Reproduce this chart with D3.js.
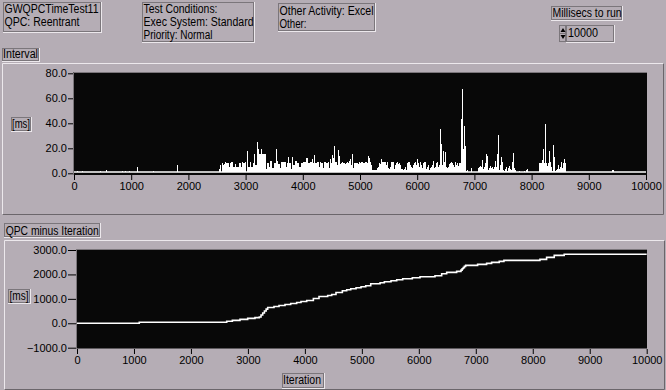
<!DOCTYPE html>
<html>
<head>
<meta charset="utf-8">
<script src="https://cdn.jsdelivr.net/npm/d3@7.9.0/dist/d3.min.js"></script>
<style>
  body { margin: 0; background: #b5adb5; }
  svg { display: block; font-family: "Liberation Sans", Arial, sans-serif; font-size: 12px; }
  .tick text { font-family: "Liberation Sans", Arial, sans-serif; font-size: 11px; fill: #000; }
  .tick line { stroke: #000; }
</style>
</head>
<body>
<div id="chart"></div>
<script>
// header texts
const titleLines = ['GWQPCTimeTest11', 'QPC: Reentrant'];
const conditionLines = ['Test Conditions:', 'Exec System: Standard', 'Priority: Normal'];
const activityLines = ['Other Activity: Excel', 'Other:'];
const millisecsToRun = 10000;

// axes
const iterTicks = [0, 1000, 2000, 3000, 4000, 5000, 6000, 7000, 8000, 9000, 10000];
const intervalTicks = [0, 20, 40, 60, 80];
const qpcTicks = [-1000, 0, 1000, 2000, 3000];

// Interval (ms): nearly every iteration sits at ~1 ms
const intervalBaseline = 1;
// isolated spikes [iteration, ms]
const intervalIsolated = [
  [60, 2], [135, 2.2], [455, 2], [560, 2.7], [835, 2], [890, 2], [960, 2],
  [1095, 4.8], [1375, 2], [1795, 6.6], [9410, 2.6], [9428, 2.6]
];
// busy stretch: peak ms per bin of 17.48 iterations, starting at iteration 2465
const busyStart = 2465;
const busyBin = 17.48;
const busyPeaks = [
  1,1,1,1,3.2,6.6,1,8,6.6,7.4, 8.8,8.5,8,8.5,5,8.5,8.8,8.8,5.3,5.3,
  7.4,5.3,5.3,5.3,8,8,5.3,8.8,8,8, 8.8,1,17.8,5.3,5.3,9.3,4.8,4.8,8,15.2,
  6.6,6.6,25,19.2,15.2,15.2,19.2,15.2,15.2,15.2, 15.2,3.2,8,8,4.8,9.8,9.8,4,4,8,
  8,19.7,9.8,7.4,7.4,4,8.8,8.8,8.8,8.8, 8.8,5.3,8,12.8,8,8,3.2,12.8,6.6,6.6,
  9.8,9.8,8,8,5.3,5.3,8,8,8.8,8.8, 9.3,12.5,12.5,8,8,8.8,8.8,11.2,8,14.6,
  8,8,8.8,8.8,4.8,8.8,8,8,4,8.8, 8.8,8,8,9.3,4,11.2,8,14.6,11.9,22,
  9.3,9.3,6.6,18.6,13.9,7.2,8,8.8,8,8, 7.2,8,8.8,8,10.1,11.4,6.6,15.4,4,8.5,
  8.5,8.5,8.5,7.4,8.8,8,8.8,8.8,8,8, 8.8,8.8,8,13.9,12.5,9.3,6.6,2.6,2.6,2.6,
  2.6,2.6,4,5.3,8,7.2,11.4,8.8,9.3,8.8, 9.3,6.6,8.8,4,3.2,5.3,8.8,9.3,9.3,3.2,
  6.6,8,8.8,7.4,8,6.6,3.2,3.2,2.6,3.2, 4.8,2.6,8,9.3,9.3,6.6,5.3,4,6.6,8,
  8.8,6.6,11.4,8,5.3,8.8,6.6,4,8,8.8, 9.3,3.2,5.3,6.6,2.6,4,5.3,6.6,9.8,4,
  5.3,8,9.3,5.3,6.6,35.4,23.4,6.6,17.8,9.3, 16.8,5.3,4,5.3,7.4,8,8.8,8,6.6,5.3,
  9.3,6.6,8,5.8,8.5,8.5,43.4,67.4,19.4,37.8, 21.8,2.1,2.6,1,1,1,4,1,1,1,
  1,1,1,4,4.8,6.1,4.8,10.6,3.2,4.8, 8,15.4,13.8,2.6,4,5.8,4,4.8,3.2,4.8,
  9.8,4.8,15.4,30.6,2.6,6.6,12.8,9.3,2.6,2.1, 3.2,4.8,2.1,4,5.8,3.2,2.6,8.7,16,4,
  2.6,1,1,1,2.1,1,1,1,1,2.1, 1,2.6,3.2,1,1,1,1,1,1,1,
  1,1,1,1,8.5,8.5,8,10.6,19.4,8, 39.4,8.5,5.8,8.5,17.8,9.3,4.8,2.1,22.6,12.8,
  2.1,2.6,3.2,6.6,3.2,5.3,9,4,8,11.4, 8.5
];

// QPC minus Iteration (ms), step values [iteration, ms]
const qpcSteps = [
  [0,0],[1093,40],[2628,80],[2727,120],[2861,160],[2996,200],[3124,230],[3200,260],
  [3230,340],[3260,420],[3290,500],[3320,580],[3347,645],[3458,685],[3546,727],
  [3651,768],[3751,809],[3856,850],[3932,891],[4032,932],[4149,1014],[4248,1096],
  [4400,1137],[4471,1178],[4546,1260],[4658,1329],[4734,1370],[4805,1411],[4898,1452],
  [4986,1493],[5068,1534],[5156,1616],[5320,1657],[5395,1698],[5512,1740],[5612,1781],
  [5717,1822],[5886,1863],[6021,1904],[6284,1945],[6401,2027],[6489,2082],[6664,2123],
  [6740,2178],[6760,2230],[6780,2280],[6800,2330],[6822,2370],[7032,2411],[7190,2452],
  [7278,2493],[7412,2534],[7494,2575],[8126,2616],[8243,2700],[8377,2782],[8552,2823],
  [10000,2823]
];

const W = 666, H = 390;
const BG = '#b5adb5', LIGHT = '#ece8ec', DARK = '#6b666b', PLOT = '#080808';

const svg = d3.select('#chart').append('svg')
  .attr('width', W).attr('height', H);

svg.append('rect').attr('width', W).attr('height', H).attr('fill', BG);

// raised panel: light top/left, dark bottom/right
function panel(x, y, w, h) {
  const g = svg.append('g');
  g.append('path').attr('d', `M${x+.5},${y+h}V${y+.5}H${x+w}`)
    .attr('fill', 'none').attr('stroke', LIGHT);
  g.append('path').attr('d', `M${x+.5},${y+h-.5}H${x+w-.5}V${y+.5}`)
    .attr('fill', 'none').attr('stroke', DARK);
}

// label box; widths squeeze the text to the narrow look of the original UI font
function labelBox(x, y, w, h, lines, widths, base = 11, lineH = 13, pad = 1.5) {
  const g = svg.append('g');
  g.append('rect').attr('x', x + .5).attr('y', y + .5).attr('width', w).attr('height', h)
    .attr('fill', 'none').attr('stroke', LIGHT);
  g.append('rect').attr('x', x + .5).attr('y', y + .5).attr('width', w - 1).attr('height', h - 1)
    .attr('fill', 'none').attr('stroke', '#7b767b');
  lines.forEach((t, i) => {
    g.append('text').attr('x', x + pad).attr('y', y + base + i * lineH)
      .attr('fill', '#000')
      .attr('textLength', widths[i])
      .attr('lengthAdjust', 'spacingAndGlyphs')
      .text(t);
  });
}

// header
labelBox(3, 2, 98, 30, titleLines, [94, 75], 11.3, 12.7);
labelBox(142, 2, 112, 40, conditionLines, [110 * 74 / 110, 110, 69], 11.3, 12.7);
labelBox(278, 3, 97, 28, activityLines, [94, 27], 12, 12.7);
labelBox(551, 6, 71, 14, ['Millisecs to run'], [69], 11.3);

// numeric control
svg.append('rect').attr('x', 559.5).attr('y', 25.5).attr('width', 6).attr('height', 16)
  .attr('fill', BG).attr('stroke', '#7b767b');
svg.append('path').attr('d', 'M560.5,32h5l-2.5,-4z').attr('fill', '#000');
svg.append('path').attr('d', 'M560.5,35h5l-2.5,4z').attr('fill', '#000');
svg.append('line').attr('x1', 560).attr('x2', 566).attr('y1', 33.5).attr('y2', 33.5)
  .attr('stroke', '#7b767b');
labelBox(566, 25, 48, 17, [String(millisecsToRun)], [30], 12.3, 13, 2);

// panels
panel(2, 63, 662, 152);
panel(4, 240, 661, 150);

labelBox(2, 48, 37, 13, ['Interval'], [35], 10, 13, 1);
labelBox(4, 223, 96, 14, ['QPC minus Iteration'], [93], 11.5, 13, 1.7);
labelBox(11, 117, 20, 14, ['[ms]'], [18], 11, 13, 1);
labelBox(8, 289, 22, 14, ['[ms]'], [19], 11, 13, 1.5);
labelBox(282, 373, 42, 15, ['Iteration'], [38], 11.3, 13, 1);

// ---------- Interval graph ----------
const xTop = d3.scaleLinear().domain([0, 10000]).range([74, 646]);
const yTop = d3.scaleLinear().domain([0, 80]).range([173.3, 73.3]);

svg.append('rect').attr('x', 73).attr('y', 72).attr('width', 574).attr('height', 103)
  .attr('fill', PLOT);
svg.append('path').attr('d', 'M73.5,175V72.5H647').attr('fill', 'none').attr('stroke', '#7b767b');

const topBars = busyPeaks.map((v, i) => [busyStart + i * busyBin, v])
  .concat(intervalIsolated)
  .filter(d => d[1] > intervalBaseline);

const bw = xTop(busyBin) - xTop(0);
svg.append('g').selectAll('rect')
  .data(topBars)
  .join('rect')
    .attr('x', d => xTop(d[0]))
    .attr('width', bw)
    .attr('y', d => yTop(d[1]))
    .attr('height', d => yTop(intervalBaseline) - yTop(d[1]))
    .attr('fill', '#fff')
    .attr('shape-rendering', 'crispEdges');

svg.append('line')
  .attr('x1', xTop(0)).attr('x2', xTop(10000))
  .attr('y1', yTop(intervalBaseline)).attr('y2', yTop(intervalBaseline))
  .attr('stroke', '#fff').attr('stroke-width', 1.5);

const fmt1 = d3.format('.1f');
svg.append('g')
  .attr('transform', 'translate(73,0)')
  .call(d3.axisLeft(yTop).tickValues(intervalTicks).tickFormat(fmt1).tickSize(5).tickPadding(1))
  .call(g => g.select('.domain').remove());
svg.append('g')
  .attr('transform', 'translate(0,175)')
  .call(d3.axisBottom(xTop).tickValues(iterTicks).tickFormat(d3.format('d')).tickSize(5).tickPadding(2))
  .call(g => g.select('.domain').remove());

// ---------- QPC minus Iteration graph ----------
const xBot = d3.scaleLinear().domain([0, 10000]).range([77, 646.7]);
const yBot = d3.scaleLinear().domain([-1000, 3000]).range([347.7, 250]);

svg.append('rect').attr('x', 76.5).attr('y', 249.5).attr('width', 570.5).attr('height', 99)
  .attr('fill', PLOT);
svg.append('path').attr('d', 'M76.5,349V249.5H647').attr('fill', 'none').attr('stroke', '#7b767b');

svg.append('path')
  .datum(qpcSteps)
  .attr('d', d3.line().x(d => xBot(d[0])).y(d => yBot(d[1])).curve(d3.curveStepAfter))
  .attr('fill', 'none')
  .attr('stroke', '#fff')
  .attr('stroke-width', 1.6);

svg.append('g')
  .attr('transform', 'translate(76,0)')
  .call(d3.axisLeft(yBot).tickValues(qpcTicks).tickFormat(fmt1).tickSize(8).tickPadding(1))
  .call(g => g.select('.domain').remove());
svg.append('g')
  .attr('transform', 'translate(0,349)')
  .call(d3.axisBottom(xBot).tickValues(iterTicks).tickFormat(d3.format('d')).tickSize(5).tickPadding(2))
  .call(g => g.select('.domain').remove());
</script>
</body>
</html>
